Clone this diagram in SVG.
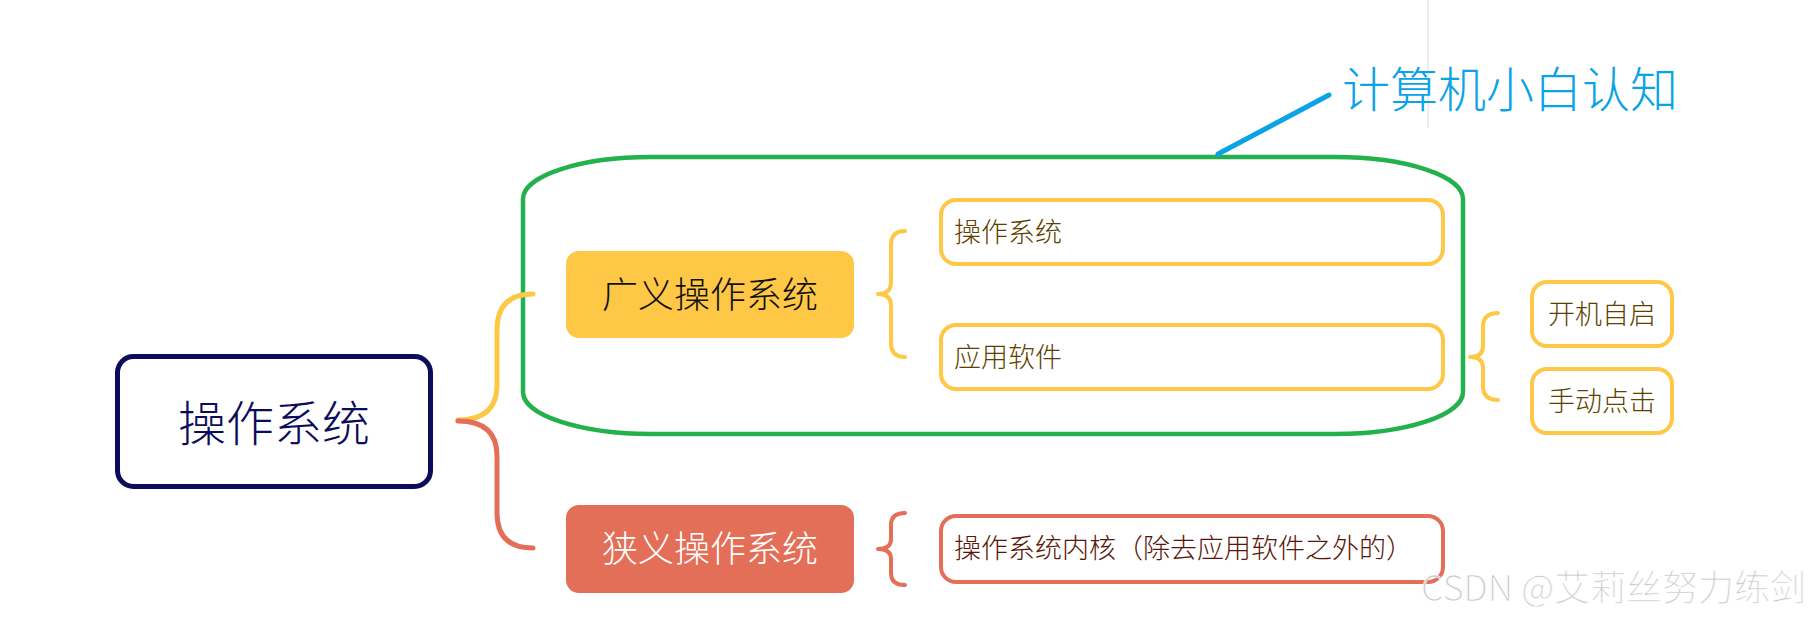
<svg xmlns="http://www.w3.org/2000/svg" width="1808" height="620" viewBox="0 0 1808 620">
<style>
  text { font-family: "Noto Sans CJK SC", "Noto Sans", sans-serif; }
  .conn { fill: none; stroke-width: 5; stroke-linecap: round; }
  .brace { fill: none; stroke-width: 4; stroke-linecap: round; stroke-linejoin: round; }
  .y { stroke: #FEC745; }
  .r { stroke: #E36F58; }
  .ybox { fill: #FFFFFF; stroke: #FEC745; stroke-width: 4; }
  .rbox { fill: #FFFFFF; stroke: #E36F58; stroke-width: 4; }
  .ytxt { font-size: 27px; fill: #5E3F00; font-weight: 300; }
  .rtxt { font-size: 27px; fill: #5A1508; font-weight: 300; }
</style>
<rect width="1808" height="620" fill="#FFFFFF"/>
<line x1="1428" y1="0" x2="1428" y2="128" stroke="#DADADA" stroke-width="1"/>

<g id="boundary">
  <rect x="523" y="157" width="940" height="277" rx="128" ry="42" fill="none" stroke="#22B14C" stroke-width="4.5"/>
  <line x1="1218" y1="154" x2="1329" y2="95" stroke="#0AA3E6" stroke-width="5" stroke-linecap="round"/>
  <text x="1342" y="107" font-size="48" fill="#0AA3E6" font-weight="300">计算机小白认知</text>
</g>

<g id="connectors">
  <path class="conn y" d="M458,420 Q497,420 497,385 L497,330 Q497,294 533,294"/>
  <path class="conn r" d="M458,421 Q497,421 497,456 L497,513 Q497,548 533,548"/>
  <path class="brace y" d="M905,231 Q891,231 891,245 L891,282 Q891,294 878,294 Q891,294 891,306 L891,343 Q891,357 905,357"/>
  <path class="brace y" d="M1498,313 Q1483,313 1483,327 L1483,346 Q1483,357 1470,357 Q1483,357 1483,368 L1483,386 Q1483,400 1498,400"/>
  <path class="brace r" d="M905,513 Q891,513 891,525 L891,539 Q891,549 878,549 Q891,549 891,559 L891,573 Q891,585 905,585"/>
</g>

<g id="root">
  <rect x="117.5" y="356.5" width="313" height="130" rx="16" fill="#FFFFFF" stroke="#0B0C5B" stroke-width="5"/>
  <text x="274" y="441" font-size="48" fill="#0B0C5B" text-anchor="middle" font-weight="300">操作系统</text>
</g>

<g id="broad">
  <rect x="566" y="251" width="288" height="87" rx="13" fill="#FEC745"/>
  <text x="710" y="308" font-size="36" fill="#111111" text-anchor="middle" font-weight="300">广义操作系统</text>
</g>

<g id="narrow">
  <rect x="566" y="505" width="288" height="88" rx="13" fill="#E36F58"/>
  <text x="710" y="562" font-size="36" fill="#FFFFFF" text-anchor="middle" font-weight="300">狭义操作系统</text>
</g>

<g id="os">
  <rect class="ybox" x="941" y="200" width="502" height="64" rx="15"/>
  <text class="ytxt" x="954" y="242">操作系统</text>
</g>

<g id="app">
  <rect class="ybox" x="941" y="325" width="502" height="64" rx="15"/>
  <text class="ytxt" x="954" y="367">应用软件</text>
</g>

<g id="boot">
  <rect class="ybox" x="1532" y="282" width="140" height="64" rx="15"/>
  <text class="ytxt" x="1602" y="324" text-anchor="middle">开机自启</text>
</g>

<g id="click">
  <rect class="ybox" x="1532" y="369" width="140" height="64" rx="15"/>
  <text class="ytxt" x="1602" y="411" text-anchor="middle">手动点击</text>
</g>

<g id="kernel">
  <rect class="rbox" x="941" y="516" width="502" height="66" rx="15"/>
  <text class="rtxt" x="954" y="558">操作系统内核（除去应用软件之外的）</text>
</g>

<text x="1421" y="601" font-size="36" fill="#C9C9C9" stroke="#FFFFFF" stroke-width="0.6" font-weight="300" font-family="'Liberation Sans', 'Noto Sans CJK SC', sans-serif">CSDN @艾莉丝努力练剑</text>
</svg>
